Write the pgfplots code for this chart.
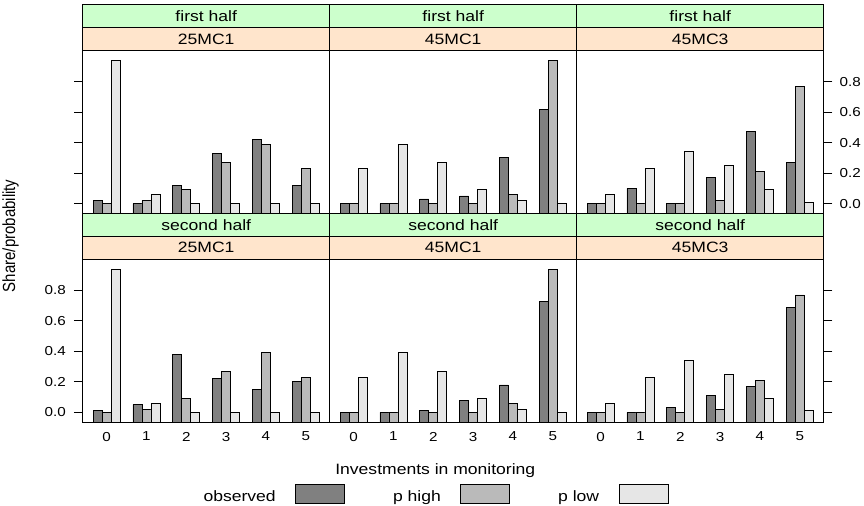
\documentclass[border=0pt]{standalone}
\usepackage{pgfplots}
\usepackage{pgfplotstable}
\pgfplotsset{compat=1.18}
\usepackage{fontspec}
\setmainfont[FakeStretch=1.17]{Liberation Sans}
\newfontfamily\plainsans{Liberation Sans}
\newcommand\mainsize{\fontsize{15bp}{18bp}\selectfont}
\newcommand\ticksize{\fontsize{13bp}{15bp}\selectfont}

\definecolor{obscol}{HTML}{808080}
\definecolor{highcol}{HTML}{BABABA}
\definecolor{lowcol}{HTML}{E6E6E6}
\definecolor{stripgreen}{HTML}{CCFFCC}
\definecolor{striporange}{HTML}{FFE5CC}

% columns: investments k, observed share, p high, p low
\pgfplotstableread{
k obs phigh plow
0 0.02 0.00 0.94
1 0.00 0.02 0.06
2 0.12 0.09 0.00
3 0.33 0.27 0.00
4 0.42 0.39 0.00
5 0.12 0.23 0.00
}\firstA
\pgfplotstableread{
k obs phigh plow
0 0.00 0.00 0.23
1 0.00 0.00 0.39
2 0.03 0.00 0.27
3 0.05 0.00 0.09
4 0.30 0.06 0.02
5 0.62 0.94 0.00
}\firstB
\pgfplotstableread{
k obs phigh plow
0 0.00 0.00 0.06
1 0.10 0.00 0.23
2 0.00 0.00 0.34
3 0.17 0.02 0.25
4 0.47 0.21 0.09
5 0.27 0.77 0.01
}\firstC
\pgfplotstableread{
k obs phigh plow
0 0.01 0.00 0.94
1 0.05 0.02 0.06
2 0.38 0.09 0.00
3 0.22 0.27 0.00
4 0.15 0.39 0.00
5 0.20 0.23 0.00
}\secondA
\pgfplotstableread{
k obs phigh plow
0 0.00 0.00 0.23
1 0.00 0.00 0.39
2 0.01 0.00 0.27
3 0.08 0.00 0.09
4 0.18 0.06 0.02
5 0.73 0.94 0.00
}\secondB
\pgfplotstableread{
k obs phigh plow
0 0.00 0.00 0.06
1 0.00 0.00 0.23
2 0.03 0.00 0.34
3 0.11 0.02 0.25
4 0.17 0.21 0.09
5 0.69 0.77 0.01
}\secondC

\pgfplotsset{
  boxlegend/.style={legend image code/.code={\draw[##1] (0bp,-6.4bp) rectangle (49bp,12bp);}},
  barbase/.style={ybar, bar width=0.2256, draw=black, line width=0.8bp},
  obsbar/.style={barbase, bar shift=-0.2256, fill=obscol, boxlegend},
  highbar/.style={barbase, bar shift=0, fill=highcol, boxlegend},
  lowbar/.style={barbase, bar shift=0.2256, fill=lowcol, boxlegend},
  % bars rise from the panel floor (-0.066), so values are lifted by 0.066
  panel/.style={
    scale only axis, width=247bp, height=163.4bp, anchor=south west,
    xmin=-0.6, xmax=5.6, ymin=0, ymax=1.072,
    y filter/.expression={y+0.066},
    clip=false,
    xtick={0,1,2,3,4,5}, xticklabels={},
    xtick style={draw=none},
    ytick={0.066,0.266,0.466,0.666,0.866},
    yticklabels={},
    tick align=outside, major tick length=8.7bp,
    every tick/.style={black, line width=0.9bp},
    axis line style={line width=0.9bp},
    tick label style={font=\ticksize},
    /pgf/number format/assume math mode=true,
    xticklabel style={inner sep=0pt, yshift=-0.7bp},
    yticklabel style={inner sep=0pt},
  },
  ylabsleft/.style={yticklabels={0.0,0.2,0.4,0.6,0.8}, yticklabel style={xshift=-8bp}},
  ylabsright/.style={yticklabels={0.0,0.2,0.4,0.6,0.8}, yticklabel style={xshift=7bp}},
  xlabs/.style={xticklabels={0,1,2,3,4,5}},
}

\newcommand\strips[2]{%
  \draw[fill=striporange, line width=0.9bp] (rel axis cs:0,1) rectangle ([yshift=22.7bp]rel axis cs:1,1);
  \draw[fill=stripgreen, line width=0.9bp] ([yshift=22.7bp]rel axis cs:0,1) rectangle ([yshift=45.4bp]rel axis cs:1,1);
  \node[anchor=base, inner sep=0pt, font=\mainsize] at ([yshift=6bp]rel axis cs:0.5,1) {#2};
  \node[anchor=base, inner sep=0pt, font=\mainsize] at ([yshift=28.4bp]rel axis cs:0.5,1) {#1};
}

\begin{document}
\begin{tikzpicture}
\useasboundingbox (0,0) rectangle (864bp,506bp);

% first half
\begin{axis}[panel, at={(82.7bp,292.4bp)}, ytick pos=left]
  \addplot[obsbar] table[x=k, y=obs] {\firstA};
  \addplot[highbar] table[x=k, y=phigh] {\firstA};
  \addplot[lowbar] table[x=k, y=plow] {\firstA};
  \strips{first half}{25MC1}
\end{axis}
\begin{axis}[panel, at={(329.7bp,292.4bp)}, ytick=\empty]
  \addplot[obsbar] table[x=k, y=obs] {\firstB};
  \addplot[highbar] table[x=k, y=phigh] {\firstB};
  \addplot[lowbar] table[x=k, y=plow] {\firstB};
  \strips{first half}{45MC1}
\end{axis}
\begin{axis}[panel, ylabsright, at={(576.7bp,292.4bp)}, ytick pos=right, yticklabel pos=right]
  \addplot[obsbar] table[x=k, y=obs] {\firstC};
  \addplot[highbar] table[x=k, y=phigh] {\firstC};
  \addplot[lowbar] table[x=k, y=plow] {\firstC};
  \strips{first half}{45MC3}
\end{axis}

% second half
\begin{axis}[panel, ylabsleft, xlabs, at={(82.7bp,83.6bp)}, ytick pos=left,
    ylabel={Share/probability},
    ylabel style={at={(axis description cs:-0.2741,1.142)}, anchor=base,
      font=\plainsans\mainsize, yscale=1.17}]
  \addplot[obsbar] table[x=k, y=obs] {\secondA};
  \addplot[highbar] table[x=k, y=phigh] {\secondA};
  \addplot[lowbar] table[x=k, y=plow] {\secondA};
  \strips{second half}{25MC1}
\end{axis}
\begin{axis}[panel, xlabs, at={(329.7bp,83.6bp)}, ytick=\empty,
    xlabel={Investments in monitoring},
    xlabel style={at={(axis description cs:0.4275,-0.3176)}, anchor=base, font=\mainsize},
    legend columns=3, legend plot pos=right,
    legend style={draw=none, fill=none, inner sep=0pt, font=\mainsize,
      at={(axis description cs:0.4304,-0.4380)}, anchor=center,
      nodes={inner sep=0pt},
      /tikz/column sep=19.5bp,
      /tikz/every even column/.append style={column sep=48bp}}]
  \addplot[obsbar] table[x=k, y=obs] {\secondB};
  \addplot[highbar] table[x=k, y=phigh] {\secondB};
  \addplot[lowbar] table[x=k, y=plow] {\secondB};
  \strips{second half}{45MC1}
  \legend{observed, p high, p low}
\end{axis}
\begin{axis}[panel, xlabs, at={(576.7bp,83.6bp)}, ytick pos=right]
  \addplot[obsbar] table[x=k, y=obs] {\secondC};
  \addplot[highbar] table[x=k, y=phigh] {\secondC};
  \addplot[lowbar] table[x=k, y=plow] {\secondC};
  \strips{second half}{45MC3}
\end{axis}
\end{tikzpicture}
\end{document}
